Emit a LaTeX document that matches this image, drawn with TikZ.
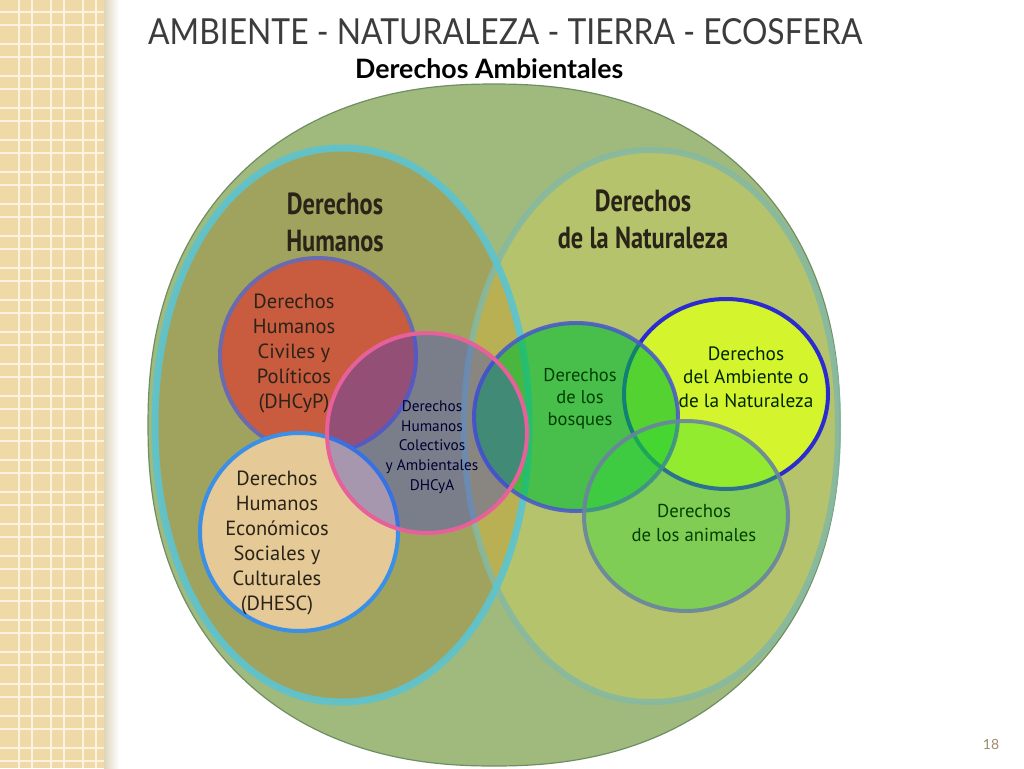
\documentclass[tikz,border=0pt]{standalone}
\usepackage{fontspec}
\setmainfont{PT Sans}
\newfontfamily\titlefont{Lato}
\newfontfamily\headfont[FakeStretch=0.8]{PT Sans}
\definecolor{stripbg}{HTML}{EFD9A6}
\definecolor{stripline}{HTML}{FBF3E0}
\definecolor{outerfill}{HTML}{9FBA7C}
\definecolor{outerline}{HTML}{6F8E63}
\definecolor{leftfill}{HTML}{A0A35E}
\definecolor{rightfill}{HTML}{B5C36C}
\definecolor{lensfill}{HTML}{B8B052}
\definecolor{cyanline}{HTML}{5FC3CC}
\definecolor{rightline}{HTML}{84B9A4}
\definecolor{redfill}{HTML}{C95B3F}
\definecolor{redline}{HTML}{6A6AB0}
\definecolor{beigefill}{HTML}{E5C996}
\definecolor{beigeline}{HTML}{3A8FE8}
\definecolor{pinkfill}{HTML}{333ADD}
\definecolor{pinkline}{HTML}{E8609A}
\definecolor{forestfill}{HTML}{00BB35}
\definecolor{forestline}{HTML}{4A5CC8}
\definecolor{yellowfill}{HTML}{D4F52D}
\definecolor{yellowline}{HTML}{2B2BD0}
\definecolor{animalfill}{HTML}{30DC32}
\definecolor{animalline}{HTML}{6A84A0}
\definecolor{titlegray}{HTML}{3C3C3C}
\definecolor{pagecol}{HTML}{A08C6C}
\definecolor{darktext}{HTML}{2A2418}
\begin{document}
\begin{tikzpicture}[x=1pt,y=-1pt,
  labelbig/.style={align=center, inner sep=0, font=\fontsize{20.5pt}{25pt}\selectfont},
  labelmid/.style={align=center, inner sep=0, font=\fontsize{19pt}{23pt}\selectfont},
  labelsmall/.style={align=center, inner sep=0, font=\fontsize{15.3pt}{19.7pt}\selectfont},
  headlabel/.style={align=center, inner sep=0, text=darktext, font=\headfont\bfseries\fontsize{30.5pt}{37pt}\selectfont}]
\useasboundingbox (0,0) rectangle (1024,768);
\fill[white] (0,0) rectangle (1024,768);
% left decorative strip
\fill[stripbg] (0,0) rectangle (110,768);
\foreach \k in {0,...,23} {
  \draw[stripline, line width=1.6pt] (0,{12+32*\k}) -- (110,{12+32*\k});
  \draw[stripline, line width=1.6pt] (0,{25+32*\k}) -- (110,{25+32*\k});
}
\foreach \k in {0,1,2} {
  \draw[stripline, line width=1.6pt] ({19+32*\k},0) -- ({19+32*\k},768);
  \draw[stripline, line width=1.6pt] ({32+32*\k},0) -- ({32+32*\k},768);
}
\shade[left color=stripbg!85!black!60!white, right color=white] (104,0) rectangle (119,768);
% titles
\node[anchor=north west, inner sep=0, text=titlegray] (title) at (148,18)
  {\resizebox{714pt}{26pt}{\titlefont AMBIENTE - NATURALEZA - TIERRA - ECOSFERA}};
\node[anchor=base west, inner sep=0, text=black] (subtitle) at (355,78)
  {\resizebox{268pt}{!}{\titlefont\bfseries Derechos Ambientales}};
% outer rounded shape (slight superellipse)
\filldraw[fill=outerfill, draw=outerline, line width=1.2pt]
  plot[domain=0:360, samples=241, variable=\t]
  ({494+346*cos(\t)*pow(abs(cos(\t))+0.0001,-0.1111)},
   {425+341*sin(\t)*pow(abs(sin(\t))+0.0001,-0.1111)}) -- cycle;
% two big ovals
\fill[leftfill] plot[domain=0:360, samples=241, variable=\t]
  ({342+187*cos(\t)*pow(abs(cos(\t))+0.0001,-0.0385)},
   {425+277*sin(\t)*pow(abs(sin(\t))+0.0001,-0.0385)}) -- cycle;
\fill[rightfill] plot[domain=0:360, samples=241, variable=\t]
  ({651+187*cos(\t)*pow(abs(cos(\t))+0.0001,-0.0385)},
   {426+276*sin(\t)*pow(abs(sin(\t))+0.0001,-0.0385)}) -- cycle;
\begin{scope}
  \clip plot[domain=0:360, samples=241, variable=\t]
  ({342+187*cos(\t)*pow(abs(cos(\t))+0.0001,-0.0385)},
   {425+277*sin(\t)*pow(abs(sin(\t))+0.0001,-0.0385)}) -- cycle;
  \fill[lensfill] plot[domain=0:360, samples=241, variable=\t]
  ({651+187*cos(\t)*pow(abs(cos(\t))+0.0001,-0.0385)},
   {426+276*sin(\t)*pow(abs(sin(\t))+0.0001,-0.0385)}) -- cycle;
\end{scope}
\draw[rightline, line width=6pt, opacity=0.85] plot[domain=0:360, samples=241, variable=\t]
  ({651+187*cos(\t)*pow(abs(cos(\t))+0.0001,-0.0385)},
   {426+276*sin(\t)*pow(abs(sin(\t))+0.0001,-0.0385)}) -- cycle;
\draw[cyanline, line width=7pt, opacity=0.95] plot[domain=0:360, samples=241, variable=\t]
  ({342+187*cos(\t)*pow(abs(cos(\t))+0.0001,-0.0385)},
   {425+277*sin(\t)*pow(abs(sin(\t))+0.0001,-0.0385)}) -- cycle;
\node[headlabel] (dh) at (335,222) {Derechos\\Humanos};
\node[headlabel] (dn) at (643,219) {Derechos\\de la Naturaleza};
% human rights circles
\draw[fill=redfill, draw=redline, line width=4pt] (318,356) circle[radius=98pt];
\draw[fill=beigefill, draw=beigeline, line width=4pt] (299,532) circle[radius=99pt];
% nature circles
\draw[fill=yellowfill, draw=yellowline, line width=4pt] (726,394) ellipse[x radius=102pt, y radius=95pt];
\fill[forestfill, fill opacity=0.6] (576,417) ellipse[x radius=102pt, y radius=94pt];
\draw[forestline, line width=4pt, opacity=0.9] (576,417) ellipse[x radius=102pt, y radius=94pt];
\fill[animalfill, fill opacity=0.4] (686,516) ellipse[x radius=102pt, y radius=95pt];
\draw[animalline, line width=4pt, opacity=0.9] (686,516) ellipse[x radius=102pt, y radius=95pt];
% collective rights circle
\fill[pinkfill, fill opacity=0.35] (427,433) circle[radius=100pt];
\draw[pinkline, line width=4pt] (427,433) circle[radius=100pt];
% labels
\node[labelbig, text=darktext] (dhcyp) at (294,353) {Derechos\\Humanos\\Civiles y\\Políticos\\(DHCyP)};
\node[labelbig, text=darktext] (dhesc) at (277,543) {Derechos\\Humanos\\Económicos\\Sociales y\\Culturales\\(DHESC)};
\node[labelsmall, text=black!80!blue] (dhcya) at (432,447) {Derechos\\Humanos\\Colectivos\\y Ambientales\\DHCyA};
\node[labelmid, font=\fontsize{18.5pt}{22pt}\selectfont, text=black!75!green] (bosq) at (580,399) {Derechos\\de los\\bosques};
\node[labelmid, font=\fontsize{19.3pt}{23.5pt}\selectfont, text=black!85!green] (amb) at (746,377) {Derechos\\del Ambiente o\\de la Naturaleza};
\node[labelmid, font=\fontsize{18.7pt}{24pt}\selectfont, text=black!75!green] (anim) at (694,523) {Derechos\\de los animales};
\node[text=pagecol, inner sep=0, font=\titlefont\fontsize{14pt}{14pt}\selectfont] (page) at (991,744) {18};
\end{tikzpicture}
\end{document}
